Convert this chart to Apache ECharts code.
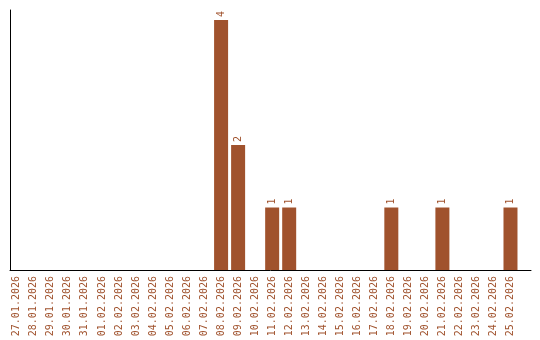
<!DOCTYPE html>
<html><head><meta charset="utf-8">
<script src="https://cdn.jsdelivr.net/npm/echarts@6/dist/echarts.min.js"></script>
<style>html,body{margin:0;padding:0;background:#fff}#c{width:540px;height:340px}</style>
</head><body><div id="c"></div>
<script>
const categories = ["27.01.2026","28.01.2026","29.01.2026","30.01.2026","31.01.2026","01.02.2026","02.02.2026","03.02.2026","04.02.2026","05.02.2026","06.02.2026","07.02.2026","08.02.2026","09.02.2026","10.02.2026","11.02.2026","12.02.2026","13.02.2026","14.02.2026","15.02.2026","16.02.2026","17.02.2026","18.02.2026","19.02.2026","20.02.2026","21.02.2026","22.02.2026","23.02.2026","24.02.2026","25.02.2026"];
const values = [0,0,0,0,0,0,0,0,0,0,0,0,4,2,0,1,1,0,0,0,0,0,1,0,0,1,0,0,0,1];
const color = '#a0522d';
const chart = echarts.init(document.getElementById('c'), null, {renderer:'canvas'});
chart.setOption({
  animation:false,
  grid:[
    {left:8.3, width:510.7, top:10, bottom:70},
    {left:10, right:9, top:10, bottom:70}
  ],
  xAxis:[
    {type:'category', gridIndex:0, data:categories,
     axisLine:{show:false}, axisTick:{show:false}, splitLine:{show:false},
     axisLabel:{rotate:90, margin:6, interval:0, color:color, fontFamily:'DejaVu Sans Mono', fontSize:10}},
    {type:'value', gridIndex:1, min:0, max:1, axisLine:{show:true, lineStyle:{color:'#000', width:1}},
     axisTick:{show:false}, axisLabel:{show:false}, splitLine:{show:false}}
  ],
  yAxis:[
    {type:'value', gridIndex:0, min:0, max:4.16, show:false},
    {type:'value', gridIndex:1, min:0, max:1, axisLine:{show:true, lineStyle:{color:'#000', width:1}},
     axisTick:{show:false}, axisLabel:{show:false}, splitLine:{show:false}}
  ],
  series:[{
    type:'bar', xAxisIndex:0, yAxisIndex:0, data:values.map(v=>v===0?null:v), barWidth:14,
    itemStyle:{color:color},
    label:{show:true, position:'top', rotate:90, align:'left', verticalAlign:'middle', distance:3,
      color:color, fontFamily:'DejaVu Sans Mono', fontSize:10}
  }]
});
</script></body></html>
